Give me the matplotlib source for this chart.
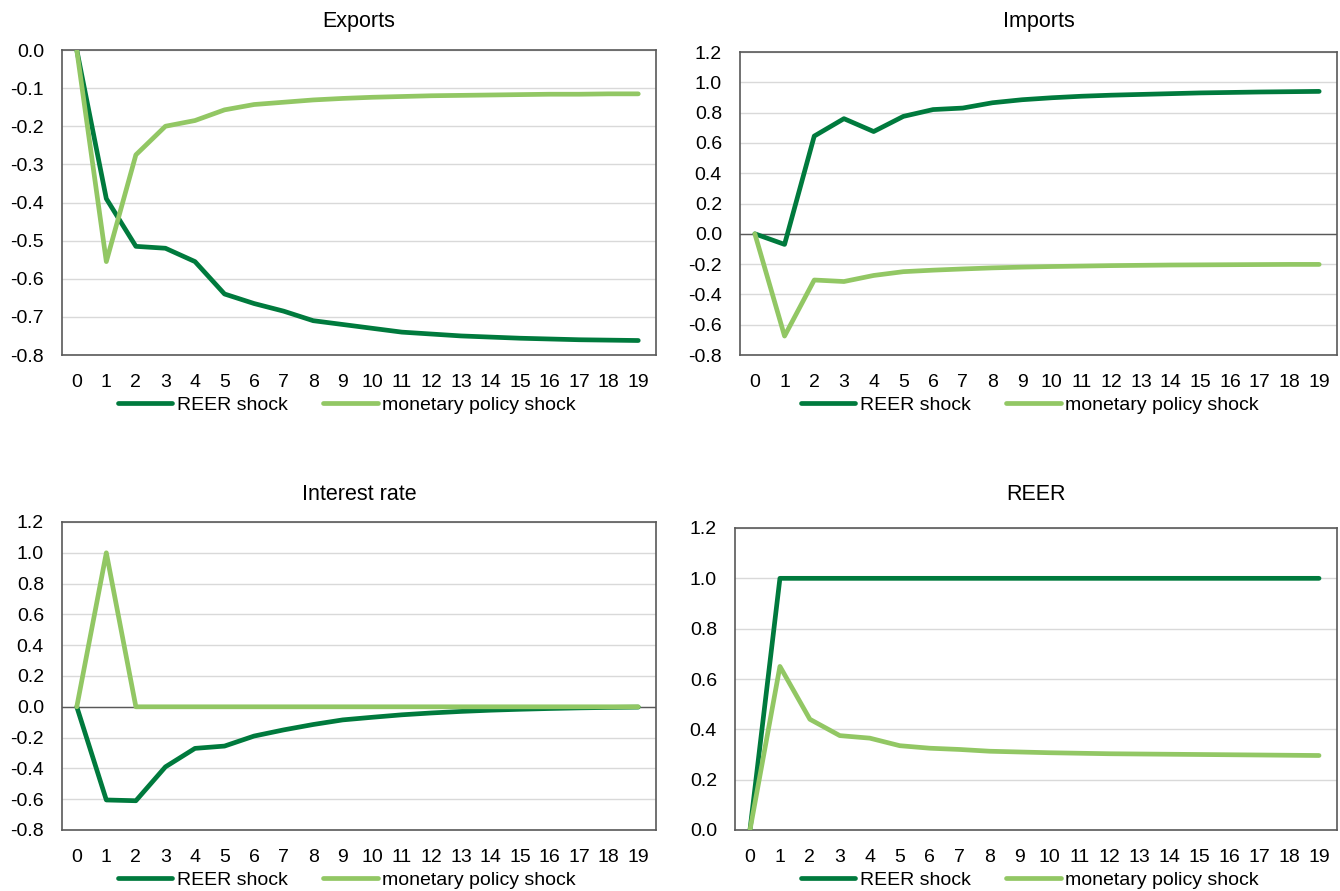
import numpy as np
import matplotlib
matplotlib.use('Agg')
from matplotlib import pyplot as plt

plt.rcParams['font.family'] = ['Liberation Sans', 'DejaVu Sans']

periods = list(range(20))

# responses to a REER shock / monetary policy shock
exp_reer = [0, -0.39, -0.515, -0.52, -0.555, -0.64, -0.665, -0.685, -0.71, -0.72,
            -0.73, -0.74, -0.745, -0.75, -0.753, -0.756, -0.758, -0.76, -0.761, -0.762]
exp_mp = [0, -0.555, -0.275, -0.2, -0.185, -0.157, -0.143, -0.137, -0.131, -0.127,
          -0.124, -0.122, -0.12, -0.119, -0.118, -0.117, -0.116, -0.116, -0.115, -0.115]

imp_reer = [0, -0.07, 0.645, 0.76, 0.675, 0.775, 0.82, 0.83, 0.865, 0.885,
            0.898, 0.908, 0.915, 0.92, 0.925, 0.93, 0.933, 0.936, 0.938, 0.94]
imp_mp = [0, -0.675, -0.305, -0.315, -0.275, -0.25, -0.24, -0.232, -0.225, -0.22,
          -0.216, -0.213, -0.21, -0.208, -0.206, -0.205, -0.204, -0.203, -0.202, -0.202]

ir_reer = [0, -0.605, -0.61, -0.39, -0.27, -0.255, -0.19, -0.15, -0.115, -0.085,
           -0.068, -0.052, -0.04, -0.03, -0.022, -0.016, -0.011, -0.007, -0.004, -0.002]
ir_mp = [0, 1.0, 0, 0, 0, 0, 0, 0, 0, 0, 0, 0, 0, 0, 0, 0, 0, 0, 0, 0]

reer_reer = [0, 1, 1, 1, 1, 1, 1, 1, 1, 1, 1, 1, 1, 1, 1, 1, 1, 1, 1, 1]
reer_mp = [0, 0.65, 0.44, 0.375, 0.365, 0.335, 0.325, 0.32, 0.313, 0.31,
           0.307, 0.305, 0.303, 0.302, 0.301, 0.3, 0.299, 0.298, 0.297, 0.296]

dark = '#007A3D'
light = '#92C764'

W, H = 1340, 891
fig = plt.figure(figsize=(W / 100, H / 100), dpi=100)


def fmt(v, pos):
    v = round(v, 1)
    return '0.0' if v == 0 else '%.1f' % v


def panel(box, title, title_y, reer, mp, ylim, step, zero_line, leg_x, leg_y):
    l, t, r, b = box
    ax = fig.add_axes([l / W, 1 - b / H, (r - l) / W, (b - t) / H])
    ax.plot(periods, reer, color=dark, lw=3.4, solid_capstyle='round', label='REER shock', zorder=3)
    ax.plot(periods, mp, color=light, lw=3.4, solid_capstyle='round', label='monetary policy shock', zorder=3)
    ax.set_xlim(-0.5, 19.6)
    ax.set_ylim(*ylim)
    ax.set_yticks(np.round(np.arange(ylim[0], ylim[1] + step / 2, step), 1))
    ax.yaxis.set_major_formatter(matplotlib.ticker.FuncFormatter(fmt))
    ax.set_xticks(periods)
    ax.grid(axis='y', color='#D9D9D9', lw=1)
    ax.set_axisbelow(True)
    if zero_line:
        ax.axhline(0, color='#595959', lw=1, zorder=2)
    for s in ax.spines.values():
        s.set_color('#595959')
        s.set_linewidth(1.2)
    ax.tick_params(length=0, labelsize=14, colors='black')
    ax.tick_params(axis='x', pad=14)
    ax.tick_params(axis='y', pad=13)
    fig.text((l + r) / 2 / W, 1 - title_y / H, title, fontsize=15.5, ha='center', va='center')
    ax.legend(loc='center', bbox_to_anchor=(leg_x / W, 1 - leg_y / H),
              bbox_transform=fig.transFigure, ncol=2, frameon=False, fontsize=14,
              handlelength=2.8, handletextpad=0.25, columnspacing=1.8)
    return ax


panel((62, 50, 656, 355), 'Exports', 22, exp_reer, exp_mp, (-0.8, 0.0), 0.1, False, 347, 405)
panel((740, 52, 1337, 355), 'Imports', 22, imp_reer, imp_mp, (-0.8, 1.2), 0.2, True, 1030, 405)
panel((62, 522, 656, 830), 'Interest rate', 495, ir_reer, ir_mp, (-0.8, 1.2), 0.2, True, 347, 880)
panel((735, 528, 1337, 830), 'REER', 495, reer_reer, reer_mp, (0.0, 1.2), 0.2, False, 1030, 880)

fig.savefig('out.png', dpi=100)
